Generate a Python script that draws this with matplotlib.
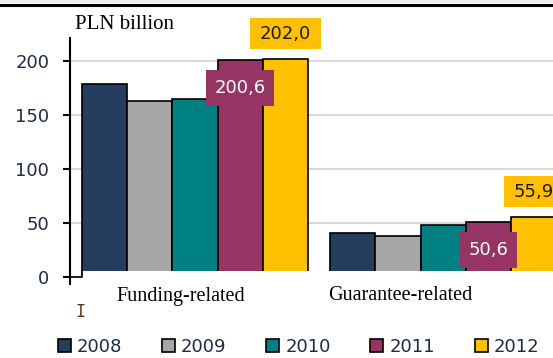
import numpy as np
import matplotlib as mpl

mpl.use("Agg")

import matplotlib.pyplot as plt
from matplotlib.path import Path
from matplotlib.patches import Rectangle
from matplotlib.lines import Line2D

# ================================
# 数据
# ================================
categories = ["Funding-related", "Guarantee-related"]
years = ["2008", "2009", "2010", "2011", "2012"]
values_2008 = [178.0, 40.4]
values_2009 = [162.3, 38.3]
values_2010 = [164.8, 47.9]
values_2011 = [200.6, 50.6]
values_2012 = [202.0, 55.9]
labelled_2011 = ["200,6", "50,6"]
labelled_2012 = ["202,0", "55,9"]
y_ticks = [0, 50, 100, 150, 200]

series = [values_2008, values_2009, values_2010, values_2011, values_2012]
colors = ["#253d5e", "#a6a6a6", "#008080", "#963463", "#ffc000"]

TICK_COLOR = "#1f2a44"
SERIF = ["Liberation Serif", "DejaVu Serif"]

# ================================
# 画布
# ================================
W, H = 553, 358
fig = plt.figure(figsize=(W / 100, H / 100), dpi=100)
fig.patch.set_facecolor("white")

ax = fig.add_axes([70 / W, 1 - 284 / H, 1 - 70 / W, 246 / H])

group_x = np.array([0.0, 5.49])
bar_w = 1.0

bars = []
for i, vals in enumerate(series):
    b = ax.bar(group_x + (i - 2) * bar_w, vals, width=bar_w, color=colors[i],
               edgecolor="black", linewidth=1.2, label=years[i], zorder=3)
    bars.append(b)

ax.set_xlim(-2.765, 7.92)
ax.set_ylim(-6.5, 221)
ax.set_yticks(y_ticks)
ax.set_xticks([])

ax.yaxis.grid(True, color="#d9d9d9", linewidth=1.5)
ax.set_axisbelow(True)

for s in ["top", "right", "bottom"]:
    ax.spines[s].set_visible(False)
ax.spines["left"].set_linewidth(1.5)
ax.tick_params(axis="y", direction="out", length=5, width=1.5, pad=10,
               labelsize=13, labelcolor=TICK_COLOR)

# 底部白条（原图柱子底部被截断）
first_left = group_x[0] - 2.5 * bar_w
x_lo, x_hi = ax.get_xlim()
ax.axhspan(-6.5, 5.5, xmin=(first_left - x_lo) / (x_hi - x_lo), xmax=1,
           color="white", zorder=4, lw=0)
ax.plot([x_lo, first_left, first_left], [0, 0, 5.5], color="black",
        lw=1.2, zorder=5, clip_on=False)


# 数据标签框：水平/垂直分别留白
def padded_box(px, py):
    def box(x0, y0, width, height, mutation_size):
        dx, dy = px * mutation_size, py * mutation_size
        x0, y0 = x0 - dx, y0 - dy
        x1, y1 = x0 + width + 2 * dx, y0 + height + 2 * dy
        return Path([(x0, y0), (x1, y0), (x1, y1), (x0, y1), (x0, y0)],
                    closed=True)
    return box


for k in range(len(categories)):
    ax.annotate(labelled_2012[k], (group_x[k] + 2 * bar_w, values_2012[k]),
                xytext=(0, 18), textcoords="offset points", ha="center",
                va="center", fontsize=13, color="#1a1a1a", zorder=6,
                bbox=dict(boxstyle=padded_box(0.55, 0.35), fc="#ffc000",
                          ec="none"))
    ax.annotate(labelled_2011[k], (group_x[k] + 1 * bar_w, values_2011[k]),
                xytext=(0, -20), textcoords="offset points", ha="center",
                va="center", fontsize=13, color="white", zorder=3.5,
                bbox=dict(boxstyle=padded_box(0.47, 0.5), fc="#963463",
                          ec="none"))

# 文字
fig.text(75 / W, 1 - 29 / H, "PLN billion", family=SERIF, fontsize=15,
         ha="left", va="baseline")
fig.text(181 / W, 1 - 296 / H, categories[0], family=SERIF, fontsize=14.5,
         ha="center", va="center")
fig.text(400 / W, 1 - 296 / H, categories[1], family=SERIF, fontsize=14.5,
         ha="center", va="center")
fig.text(80 / W, 1 - 312 / H, "I", family="DejaVu Sans Mono", fontsize=12,
         color="#5a3a1a", ha="center", va="center")

# 顶部边框
fig.add_artist(Rectangle((0, 1 - 3 / H), 1, 3 / H, transform=fig.transFigure,
                         color="#efefef", lw=0))
fig.add_artist(Line2D([0, 1], [1 - 4.5 / H, 1 - 4.5 / H],
                      transform=fig.transFigure, color="black", lw=2.2))

# 图例
leg = fig.legend(handles=[b.patches[0] for b in bars], labels=years,
                 loc="center", bbox_to_anchor=(0.54, 1 - 347 / H), ncol=5,
                 frameon=False, fontsize=13, handlelength=0.72,
                 handleheight=0.72, handletextpad=0.33, columnspacing=2.2,
                 borderpad=0)
for t in leg.get_texts():
    t.set_color(TICK_COLOR)

fig.savefig("out.png", dpi=100)
plt.close(fig)
